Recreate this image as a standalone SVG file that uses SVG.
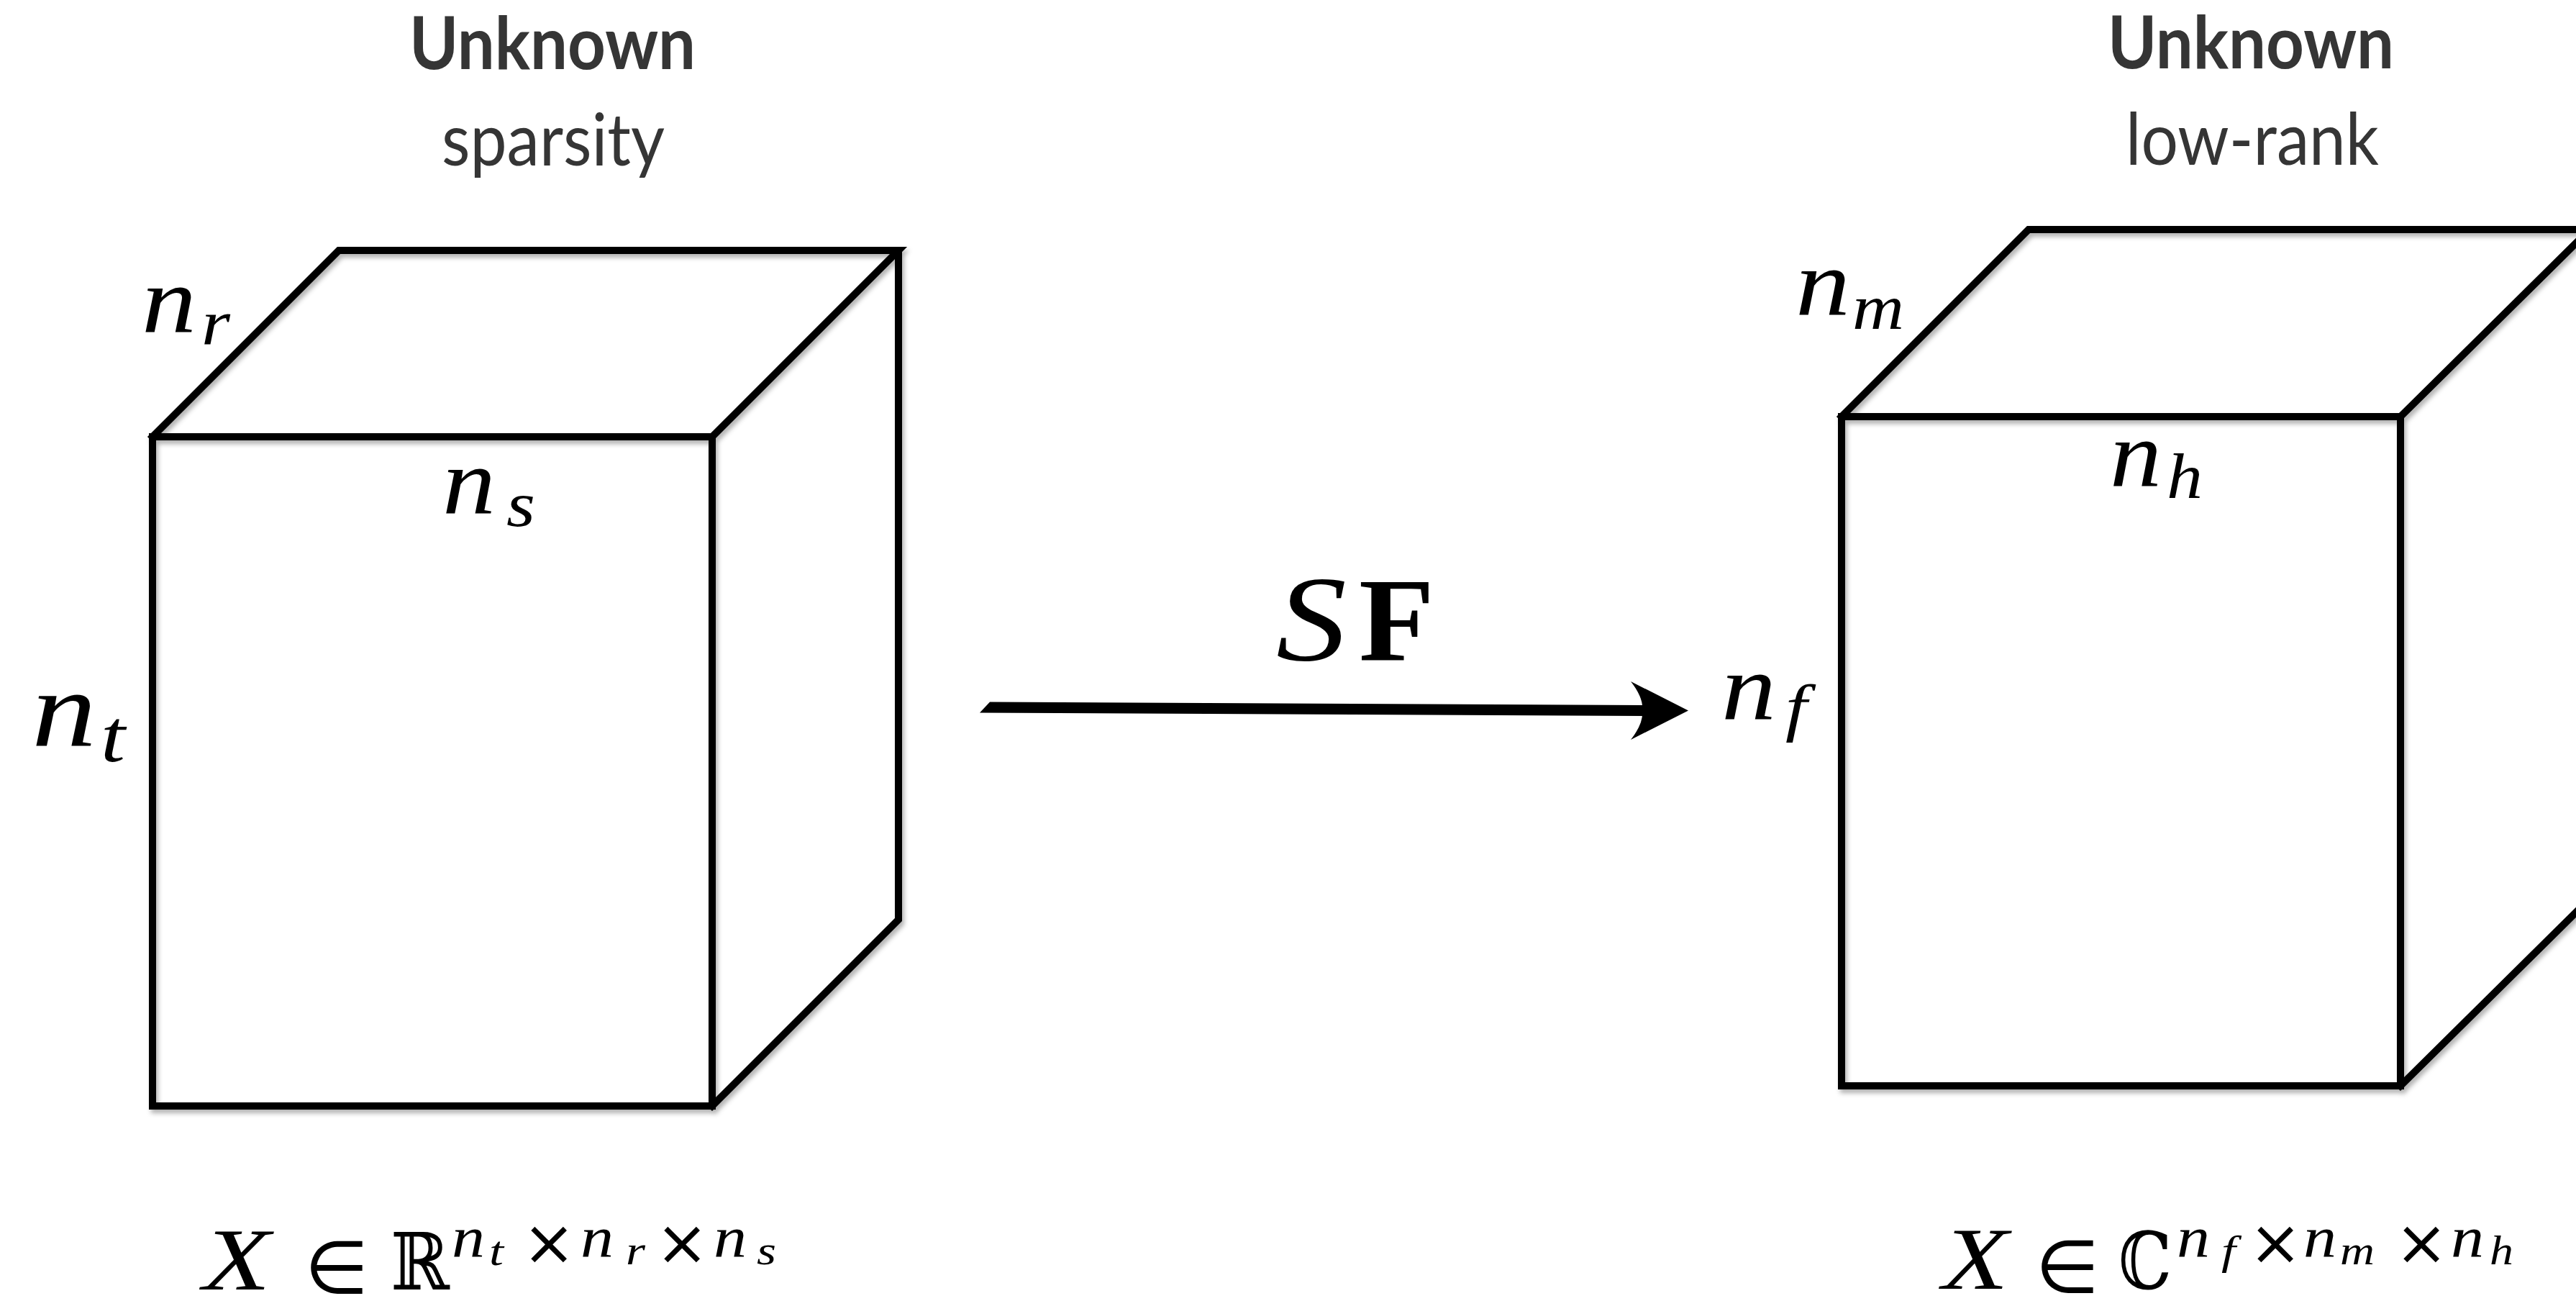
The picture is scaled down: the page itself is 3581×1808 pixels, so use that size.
<svg xmlns="http://www.w3.org/2000/svg" width="3581" height="1808" viewBox="0 0 3581 1808">
<style>
.ttl{font-family:Lato,"Open Sans","Liberation Sans",sans-serif;fill:#353535;text-anchor:start}
.b{font-weight:bold}
.mi{font-family:"Liberation Serif","Times New Roman",serif;font-style:italic;fill:#000}
.rm{font-family:"Liberation Serif","Times New Roman",serif;fill:#000}
.ds{font-family:"DejaVu Serif","DejaVu Sans",serif;fill:#000}
.op{font-family:"DejaVu Sans",sans-serif;fill:#000;text-anchor:middle}
.edge{fill:none;stroke:#000;stroke-width:10;stroke-linejoin:miter;stroke-linecap:square}
</style>
<defs>
<filter id="sh" x="-5%" y="-5%" width="110%" height="110%">
<feDropShadow dx="3" dy="5" stdDeviation="3" flood-color="#000" flood-opacity="0.3"/>
</filter>
</defs>
<rect width="3581" height="1808" fill="#fff"/>

<g id="title-left">
<text class="ttl b" x="569" y="96" font-size="102" textLength="398" lengthAdjust="spacingAndGlyphs">Unknown</text>
<text class="ttl" x="614" y="230" font-size="100" textLength="310" lengthAdjust="spacingAndGlyphs">sparsity</text>
</g>
<g id="title-right">
<text class="ttl b" x="2930" y="95" font-size="102" textLength="398" lengthAdjust="spacingAndGlyphs">Unknown</text>
<text class="ttl" x="2955" y="229" font-size="100" textLength="352" lengthAdjust="spacingAndGlyphs">low-rank</text>
</g>

<g id="cube-left" filter="url(#sh)">
<rect class="edge" x="212" y="607" width="778" height="930"/>
<polyline class="edge" points="212,607 471,348 1249,348 990,607"/>
<polyline class="edge" points="1249,348 1249,1278 990,1537"/>
</g>

<g id="cube-right" filter="url(#sh)">
<rect class="edge" x="2560" y="579" width="777" height="930"/>
<polyline class="edge" points="2560,579 2820,319 3600,319 3337,579"/>
<polyline class="edge" points="3600,319 3600,1249 3337,1509"/>
</g>

<g id="labels-left">
<g id="lbl-nr"><text class="mi" x="197" y="462" font-size="132" textLength="76" lengthAdjust="spacingAndGlyphs">n</text><text class="mi" x="280" y="478" font-size="88" textLength="40" lengthAdjust="spacingAndGlyphs">r</text></g>
<g id="lbl-ns"><text class="mi" x="615" y="714" font-size="132" textLength="74" lengthAdjust="spacingAndGlyphs">n</text><text class="mi" x="704" y="731" font-size="88" textLength="40" lengthAdjust="spacingAndGlyphs">s</text></g>
<g id="lbl-nt"><text class="mi" x="44" y="1036" font-size="150" textLength="90" lengthAdjust="spacingAndGlyphs">n</text><text class="mi" x="140" y="1058" font-size="104" textLength="34" lengthAdjust="spacingAndGlyphs">t</text></g>
</g>

<g id="labels-right">
<g id="lbl-nm"><text class="mi" x="2496" y="438" font-size="132" textLength="76" lengthAdjust="spacingAndGlyphs">n</text><text class="mi" x="2575" y="457" font-size="88" textLength="72" lengthAdjust="spacingAndGlyphs">m</text></g>
<g id="lbl-nh"><text class="mi" x="2933" y="676" font-size="132" textLength="72" lengthAdjust="spacingAndGlyphs">n</text><text class="mi" x="3012" y="692" font-size="88" textLength="50" lengthAdjust="spacingAndGlyphs">h</text></g>
<g id="lbl-nf"><text class="mi" x="2393" y="1000" font-size="132" textLength="76" lengthAdjust="spacingAndGlyphs">n</text><text class="mi" x="2482" y="1013" font-size="88" textLength="30" lengthAdjust="spacingAndGlyphs">f</text></g>
</g>

<g id="connectors">
<g id="arrow-sf">
<polygon points="1376,975.5 2285,980 2285,995 1362,990.5" fill="#000"/>
<path d="M2267,947 L2347,987.5 L2267,1028 Q2285,1005 2283,987.5 Q2285,970 2267,947 Z" fill="#000"/>
</g>
<g id="arrow-label">
<text class="mi" x="1774" y="917" font-size="170" textLength="98" lengthAdjust="spacingAndGlyphs">S</text>
<text class="rm b" x="1889" y="917" font-size="166" textLength="105" lengthAdjust="spacingAndGlyphs">F</text>
</g>
</g>

<g id="formula-left">
<text class="mi" x="282" y="1792" font-size="122" textLength="94" lengthAdjust="spacingAndGlyphs">X</text>
<text class="op" x="468" y="1797" font-size="102">∈</text>
<text class="ds" x="543" y="1792" font-size="110" textLength="82" lengthAdjust="spacingAndGlyphs">ℝ</text>
<text class="mi" x="628" y="1746" font-size="80" textLength="46" lengthAdjust="spacingAndGlyphs">n</text>
<text class="mi" x="680" y="1758" font-size="58" textLength="20" lengthAdjust="spacingAndGlyphs">t</text>
<text class="op" x="763" y="1757" font-size="88">×</text>
<text class="mi" x="807" y="1746" font-size="80" textLength="46" lengthAdjust="spacingAndGlyphs">n</text>
<text class="mi" x="870" y="1757" font-size="58" textLength="27" lengthAdjust="spacingAndGlyphs">r</text>
<text class="op" x="948" y="1757" font-size="88">×</text>
<text class="mi" x="992" y="1746" font-size="80" textLength="46" lengthAdjust="spacingAndGlyphs">n</text>
<text class="mi" x="1052" y="1757" font-size="58" textLength="27" lengthAdjust="spacingAndGlyphs">s</text>
</g>

<g id="formula-right">
<text class="mi" x="2700" y="1791" font-size="122" textLength="92" lengthAdjust="spacingAndGlyphs">X</text>
<text class="op" x="2874" y="1796" font-size="102">∈</text>
<text class="ds" x="2945" y="1791" font-size="110" textLength="74" lengthAdjust="spacingAndGlyphs">ℂ</text>
<text class="mi" x="3026" y="1746" font-size="80" textLength="46" lengthAdjust="spacingAndGlyphs">n</text>
<text class="mi" x="3088" y="1757" font-size="58" textLength="20" lengthAdjust="spacingAndGlyphs">f</text>
<text class="op" x="3163" y="1757" font-size="88">×</text>
<text class="mi" x="3202" y="1746" font-size="80" textLength="46" lengthAdjust="spacingAndGlyphs">n</text>
<text class="mi" x="3253" y="1757" font-size="58" textLength="48" lengthAdjust="spacingAndGlyphs">m</text>
<text class="op" x="3366" y="1757" font-size="88">×</text>
<text class="mi" x="3407" y="1746" font-size="80" textLength="46" lengthAdjust="spacingAndGlyphs">n</text>
<text class="mi" x="3461" y="1757" font-size="58" textLength="33" lengthAdjust="spacingAndGlyphs">h</text>
</g>
</svg>
